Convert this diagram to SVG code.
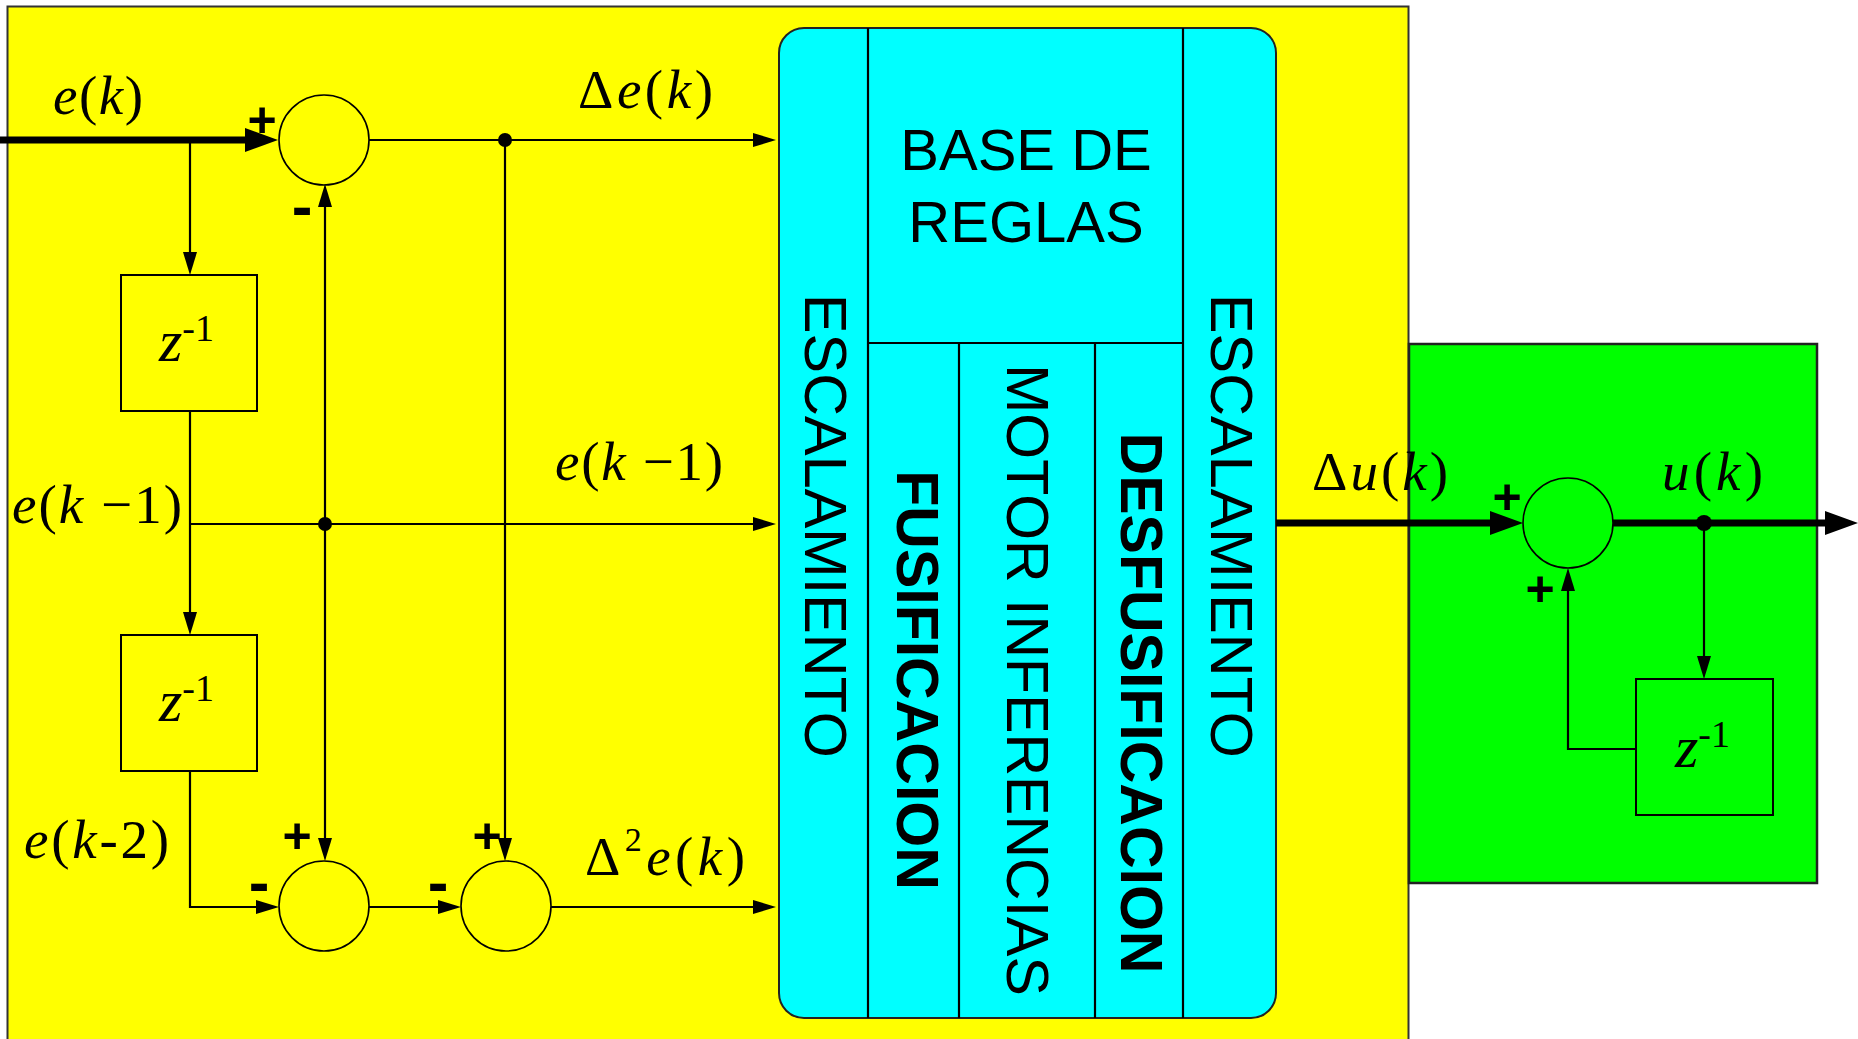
<svg xmlns="http://www.w3.org/2000/svg" width="1858" height="1039" viewBox="0 0 1858 1039">
<defs>
<style>
.m{font-family:"Liberation Serif","Times New Roman",serif;font-size:55px;fill:#000}
.i{font-style:italic}
.sup{font-size:34px}
.z{font-size:60px}
.zs{font-size:38px}
.s{font-family:"Liberation Sans",Arial,sans-serif;fill:#000}
.big{font-size:58px}
.rot{font-size:59px;text-anchor:middle}
.b{font-weight:bold}
.sign{font-family:"Liberation Sans",Arial,sans-serif;font-weight:bold;font-size:50px;text-anchor:middle;fill:#000}
.minus{font-size:62px}
.thin{fill:none;stroke:#000;stroke-width:2.2}
.thick{fill:none;stroke:#000;stroke-width:7}
.arr{marker-end:url(#ah)}
.arrT{marker-end:url(#ahT)}
.sum{stroke:#000;stroke-width:1.6}
.box{stroke:#000;stroke-width:2}
.dot{fill:#000}
</style>
<marker id="ah" viewBox="0 -7 23 14" markerWidth="23" markerHeight="14" refX="0" refY="0" orient="auto" markerUnits="userSpaceOnUse"><path d="M0,-7 L23,0 L0,7 z" fill="#000"/></marker>
<marker id="ahT" viewBox="0 -12 33 24" markerWidth="33" markerHeight="24" refX="0" refY="0" orient="auto" markerUnits="userSpaceOnUse"><path d="M0,-12 L33,0 L0,12 z" fill="#000"/></marker>
</defs>
<rect x="0" y="0" width="1858" height="1039" fill="#fff"/>
<g id="controller-area"><rect x="7.5" y="6.5" width="1401" height="1100" fill="#ffff00" stroke="#333" stroke-width="2"/></g>
<g id="integrator-area"><rect x="1409" y="344" width="408" height="539" fill="#00ff00" stroke="#222" stroke-width="2.5"/></g>
<g id="fuzzy-block">
<rect x="779" y="28" width="497" height="990" rx="25" fill="#00ffff" stroke="#222" stroke-width="2"/>
<path d="M868,28 V1018 M1183,28 V1018 M868,343 H1183 M959,343 V1018 M1095,343 V1018" class="thin"/>
<text class="s big" x="1026" y="170" text-anchor="middle">BASE DE</text>
<text class="s big" x="1026" y="242" text-anchor="middle">REGLAS</text>
<text class="s rot" transform="translate(805,526) rotate(90)" font-size="60" textLength="464" lengthAdjust="spacingAndGlyphs">ESCALAMIENTO</text>
<text class="s rot" transform="translate(1211,526) rotate(90)" font-size="60" textLength="464" lengthAdjust="spacingAndGlyphs">ESCALAMIENTO</text>
<text class="s rot b" transform="translate(897,680) rotate(90)">FUSIFICACION</text>
<text class="s rot" transform="translate(1007,680) rotate(90)">MOTOR INFERENCIAS</text>
<text class="s rot b" transform="translate(1121,703) rotate(90)">DESFUSIFICACION</text>
</g>
<g id="delay1"><rect x="121" y="275" width="136" height="136" fill="none" class="box"/>
<text class="m" x="159" y="361"><tspan class="i z">z</tspan><tspan class="zs" dy="-20">-1</tspan></text></g>
<g id="delay2"><rect x="121" y="635" width="136" height="136" fill="none" class="box"/>
<text class="m" x="159" y="721"><tspan class="i z">z</tspan><tspan class="zs" dy="-20">-1</tspan></text></g>
<g id="delay3"><rect x="1636" y="679" width="137" height="136" fill="none" class="box"/>
<text class="m" x="1675" y="767"><tspan class="i z">z</tspan><tspan class="zs" dy="-20">-1</tspan></text></g>
<g id="sum1"><circle cx="324" cy="140" r="45" fill="none" class="sum"/></g>
<g id="sum2"><circle cx="324" cy="906" r="45" fill="none" class="sum"/></g>
<g id="sum3"><circle cx="506" cy="906" r="45" fill="none" class="sum"/></g>
<g id="sum4"><circle cx="1568" cy="523" r="45" fill="none" class="sum"/></g>
<g id="connectors">
<path class="thick arrT" d="M0,140 H245"/>
<path class="thin arr" d="M369,140 H753"/>
<path class="thin arr" d="M190,140 V252"/>
<path class="thin arr" d="M190,411 V612"/>
<path class="thin arr" d="M190,524 H753"/>
<path class="thin arr" d="M325,524 V207"/>
<path class="thin arr" d="M325,524 V838"/>
<path class="thin arr" d="M505,140 V838"/>
<path class="thin arr" d="M190,771 V907 H256"/>
<path class="thin arr" d="M369,907 H438"/>
<path class="thin arr" d="M551,907 H753"/>
<path class="thick arrT" d="M1276,523 H1490"/>
<path class="thick arrT" d="M1613,523 H1825"/>
<path class="thin arr" d="M1704,523 V656"/>
<path class="thin arr" d="M1636,749 H1568 V591"/>
<circle class="dot" cx="505" cy="140" r="7"/>
<circle class="dot" cx="325" cy="524" r="7"/>
<circle class="dot" cx="1704" cy="523" r="8"/>
</g>
<g id="labels">
<text class="m" x="53" y="114" textLength="90"><tspan class="i">e</tspan>(<tspan class="i">k</tspan>)</text>
<text class="m" x="578" y="108" textLength="135">Δ<tspan class="i">e</tspan>(<tspan class="i">k</tspan>)</text>
<text class="m" x="555" y="480" textLength="168"><tspan class="i">e</tspan>(<tspan class="i">k</tspan> −1)</text>
<text class="m" x="12" y="523" textLength="170"><tspan class="i">e</tspan>(<tspan class="i">k</tspan> −1)</text>
<text class="m" x="24" y="858" textLength="145"><tspan class="i">e</tspan>(<tspan class="i">k</tspan>-2)</text>
<text class="m" x="585" y="875" textLength="160">Δ<tspan class="sup" dy="-24">2</tspan><tspan class="i" dy="24">e</tspan>(<tspan class="i">k</tspan>)</text>
<text class="m" x="1312" y="490" textLength="136">Δ<tspan class="i">u</tspan>(<tspan class="i">k</tspan>)</text>
<text class="m" x="1662" y="490" textLength="101"><tspan class="i">u</tspan>(<tspan class="i">k</tspan>)</text>
<text class="sign" x="262" y="137">+</text>
<text class="sign" x="297" y="853">+</text>
<text class="sign" x="487" y="853">+</text>
<text class="sign" x="1507" y="514">+</text>
<text class="sign" x="1540" y="606">+</text>
<text class="sign minus" x="302" y="227">-</text>
<text class="sign minus" x="259" y="903">-</text>
<text class="sign minus" x="438" y="903">-</text>
</g>
</svg>
